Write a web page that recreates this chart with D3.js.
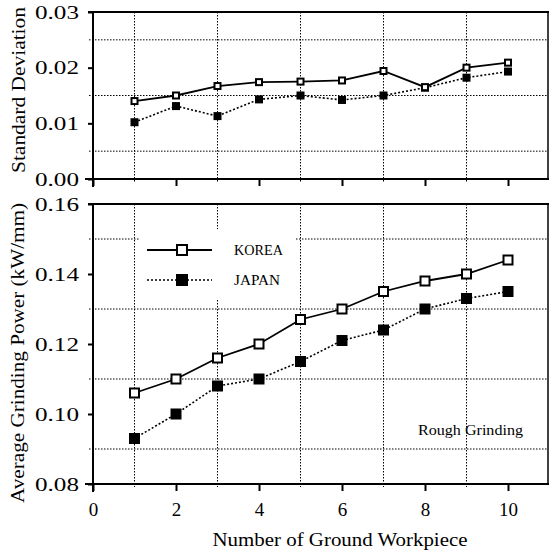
<!DOCTYPE html>
<html><head><meta charset="utf-8">
<script src="https://cdn.jsdelivr.net/npm/d3@7"></script>
<style>body{margin:0;background:#fff}svg{display:block}svg text{font-family:"Liberation Serif","Times New Roman",Times,"DejaVu Serif",serif !important;fill:#000}</style>
</head><body><svg id="c" width="550" height="550"></svg>
<script>
const workpieces = [1,2,3,4,5,6,7,8,9,10];
const seriesNames = ["KOREA","JAPAN"];
const sdKorea = [0.0140,0.0150,0.0167,0.0174,0.0175,0.0177,0.0194,0.0165,0.0200,0.0209];
const sdJapan = [0.0102,0.0131,0.0113,0.0143,0.0150,0.0142,0.0150,0.0164,0.0182,0.0193];
const powKorea = [0.106,0.110,0.116,0.120,0.127,0.130,0.135,0.138,0.140,0.144];
const powJapan = [0.093,0.100,0.108,0.110,0.115,0.121,0.124,0.130,0.133,0.135];
const xTicks = [0,2,4,6,8,10];
const xGrid = [1,3,5,7,9];
const sdTicks = [0,0.01,0.02,0.03];
const sdGrid = [0.005,0.015,0.025];
const powTicks = [0.08,0.10,0.12,0.14,0.16];
const powGrid = [0.09,0.11,0.13,0.15];
const annotation = "Rough Grinding";
const xTitle = "Number of Ground Workpiece";
const sdTitle = "Standard Deviation";
const powTitle = "Average Grinding Power (kW/mm)";

const svg = d3.select("#c");
const x = d3.scaleLinear().domain([0,11]).range([93,549.5]);
const ySd = d3.scaleLinear().domain([0,0.03]).range([179,12]);
const yPow = d3.scaleLinear().domain([0.08,0.16]).range([484,204]);
const RIGHT = 548;

function panel(y, ticks, grid, korea, japan, msize, showXLabels, legend) {
  const g = svg.append("g");
  g.selectAll(".hg").data(grid).join("line")
    .attr("x1", x(0)-4).attr("x2", RIGHT).attr("y1", d=>y(d)).attr("y2", d=>y(d))
    .attr("stroke","#000").attr("stroke-width",1).attr("stroke-dasharray","1.5,1.5");
  g.selectAll(".vg").data(xGrid).join("line")
    .attr("x1", d=>x(d)).attr("x2", d=>x(d)).attr("y1", y.range()[1]).attr("y2", y.range()[0]+3)
    .attr("stroke","#000").attr("stroke-width",1).attr("stroke-dasharray","1.5,1.5");
  if (legend) {
    g.append("rect").attr("x",140).attr("y",229).attr("width",156).attr("height",71).attr("fill","#fff");
  }
  g.append("line").attr("x1", x(0)-5).attr("x2", RIGHT+1).attr("y1", y.range()[1]).attr("y2", y.range()[1])
    .attr("stroke","#000").attr("stroke-width",2);
  g.append("line").attr("x1", RIGHT).attr("x2", RIGHT).attr("y1", y.range()[1]).attr("y2", y.range()[0])
    .attr("stroke","#000").attr("stroke-width",1.5);
  const ya = g.append("g").attr("transform",`translate(${x(0)},0)`)
    .call(d3.axisLeft(y).tickValues(ticks).tickSize(5).tickSizeOuter(0).tickPadding(9).tickFormat(d3.format(".2f")));
  ya.select(".domain").attr("stroke-width",2).attr("d",`M0,${y.range()[1]-1}V${y.range()[0]+8}`);
  ya.selectAll(".tick line").attr("stroke-width",2);
  ya.selectAll(".tick text").attr("font-size",19)
    .attr("textLength",44).attr("lengthAdjust","spacingAndGlyphs");
  const xa = g.append("g").attr("transform",`translate(0,${y.range()[0]})`)
    .call(d3.axisBottom(x).tickValues(xTicks).tickSize(7).tickSizeOuter(0).tickPadding(12)
      .tickFormat(showXLabels ? d3.format("d") : ""));
  xa.select(".domain").attr("stroke-width",2).attr("d",`M${x(0)-8},0H${RIGHT+1}`);
  xa.selectAll(".tick line").attr("stroke-width",2);
  xa.selectAll(".tick text").attr("font-size",19);

  const line = d3.line().x((d,i)=>x(workpieces[i])).y(d=>y(d));
  g.append("path").datum(japan).attr("d",line).attr("fill","none").attr("stroke","#000")
    .attr("stroke-width",1.6).attr("stroke-dasharray","2,2");
  g.append("path").datum(korea).attr("d",line).attr("fill","none").attr("stroke","#000")
    .attr("stroke-width",1.8);
  g.selectAll(".mj").data(japan).join("rect")
    .attr("x",(d,i)=>x(workpieces[i])-msize/2).attr("y",d=>y(d)-msize/2)
    .attr("width",msize).attr("height",msize).attr("fill","#000");
  g.selectAll(".mk").data(korea).join("rect")
    .attr("x",(d,i)=>x(workpieces[i])-msize/2+1).attr("y",d=>y(d)-msize/2+1)
    .attr("width",msize-2).attr("height",msize-2).attr("fill","#fff").attr("stroke","#000").attr("stroke-width",2);
  return g;
}

panel(ySd, sdTicks, sdGrid, sdKorea, sdJapan, 8, false, false);
const gp = panel(yPow, powTicks, powGrid, powKorea, powJapan, 11, true, true);

const leg = [{name:seriesNames[0], y:250, dash:null, fill:"#fff", len:49},
             {name:seriesNames[1], y:280, dash:"2,2", fill:"#000", len:46}];
leg.forEach(l=>{
  gp.append("line").attr("x1",147).attr("x2",212).attr("y1",l.y).attr("y2",l.y)
    .attr("stroke","#000").attr("stroke-width",l.dash?1.6:1.8).attr("stroke-dasharray",l.dash);
  if (l.fill === "#fff")
    gp.append("rect").attr("x",177).attr("y",l.y-5).attr("width",10).attr("height",10)
      .attr("fill","#fff").attr("stroke","#000").attr("stroke-width",2);
  else
    gp.append("rect").attr("x",176).attr("y",l.y-6).attr("width",12).attr("height",12).attr("fill","#000");
  gp.append("text").attr("x",234).attr("y",l.y+5).attr("font-size",14)
    .attr("textLength",l.len).attr("lengthAdjust","spacingAndGlyphs").text(l.name);
});

gp.append("text").attr("x",418).attr("y",435).attr("font-size",14)
  .attr("textLength",105).attr("lengthAdjust","spacingAndGlyphs").text(annotation);

svg.append("text").attr("x",340).attr("y",546).attr("text-anchor","middle").attr("font-size",19)
  .attr("textLength",255).attr("lengthAdjust","spacingAndGlyphs").text(xTitle);
svg.append("text").attr("transform","translate(25,90) rotate(-90)").attr("text-anchor","middle")
  .attr("font-size",19).attr("textLength",166).attr("lengthAdjust","spacingAndGlyphs").text(sdTitle);
svg.append("text").attr("transform","translate(24,353) rotate(-90)").attr("text-anchor","middle")
  .attr("font-size",19).attr("textLength",300).attr("lengthAdjust","spacingAndGlyphs").text(powTitle);
</script></body></html>
